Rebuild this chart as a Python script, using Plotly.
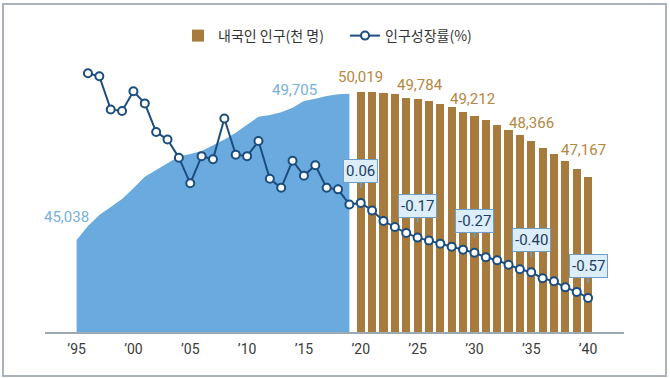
import plotly.graph_objects as go

# ---------------- data ----------------
hist_years = list(range(1995, 2020))
hist_pop = [45038, 45508, 45884, 46150, 46415, 46780, 47163, 47388, 47613, 47841,
            47925, 48032, 48224, 48415, 48643, 48901, 49180, 49237, 49331, 49479,
            49705, 49787, 49875, 49932, 49950]

proj_years = list(range(2020, 2041))
proj_pop = [50019, 50010, 49965, 49932, 49818, 49784, 49717, 49596, 49495, 49348,
            49212, 49069, 48891, 48734, 48556, 48366, 48130, 47928, 47693, 47415,
            47167]

growth_years = list(range(1996, 2041))
growth = [0.92, 0.90, 0.68, 0.67, 0.80, 0.72, 0.53, 0.48, 0.36, 0.19,
          0.37, 0.35, 0.62, 0.38, 0.37, 0.47, 0.22, 0.16, 0.34, 0.24,
          0.31, 0.16, 0.15, 0.05, 0.06, 0.01, -0.06, -0.10, -0.14, -0.17,
          -0.19, -0.21, -0.23, -0.25, -0.27, -0.30, -0.32, -0.35, -0.38, -0.40,
          -0.44, -0.46, -0.50, -0.53, -0.57]

tick_years = [1995, 2000, 2005, 2010, 2015, 2020, 2025, 2030, 2035, 2040]
tick_text = ["’95", "’00", "’05", "’10", "’15", "’20", "’25", "’30", "’35", "’40"]

hist_label_years = [1995, 2015]
proj_label_years = [2020, 2025, 2030, 2035, 2040]
callout_years = [2020, 2025, 2030, 2035, 2040]

# ---------------- style ----------------
NARROW = "Roboto, sans-serif"
KR = "Noto Sans CJK KR, sans-serif"
AREA_C = "#6aaadf"
BAR_C = "#a67b3d"
LINE_C = "#1b4d7e"
HIST_LBL_C = "#74b1e3"
PROJ_LBL_C = "#b5873f"

fig = go.Figure()

fig.add_trace(go.Scatter(
    x=hist_years, y=hist_pop, mode="lines", fill="tozeroy",
    line=dict(width=0, color=AREA_C), fillcolor=AREA_C,
    showlegend=False, hoverinfo="skip"))

fig.add_trace(go.Bar(
    x=proj_years, y=proj_pop, name="내국인 인구(천 명)",
    marker=dict(color=BAR_C, line=dict(width=0)), width=0.72))

fig.add_trace(go.Scatter(
    x=growth_years, y=growth, name="인구성장률(%)", yaxis="y2",
    mode="lines+markers",
    line=dict(color=LINE_C, width=2),
    marker=dict(symbol="circle", size=8, color="white",
                line=dict(color=LINE_C, width=2))))

annotations = []
hist_shift = {1995: (-10, 23), 2015: (-9, 11)}
for yr in hist_label_years:
    v = hist_pop[hist_years.index(yr)]
    xs, ys = hist_shift[yr]
    annotations.append(dict(x=yr, y=v, xref="x", yref="y", text=f"{v:,}",
                            showarrow=False, xshift=xs, yshift=ys,
                            font=dict(family=NARROW, size=15, color=HIST_LBL_C)))
proj_shift = {2020: (0, 15), 2025: (2, 14), 2030: (-2, 17), 2035: (0, 18), 2040: (-5, 27)}
for yr in proj_label_years:
    v = proj_pop[proj_years.index(yr)]
    xs, ys = proj_shift[yr]
    annotations.append(dict(x=yr, y=v, xref="x", yref="y", text=f"{v:,}",
                            showarrow=False, xshift=xs, yshift=ys,
                            font=dict(family=NARROW, size=15, color=PROJ_LBL_C)))
for yr in callout_years:
    v = growth[growth_years.index(yr)]
    annotations.append(dict(x=yr, y=v, xref="x", yref="y2", text=f"{v:.2f}",
                            showarrow=True, ax=0, ay=-32, arrowhead=0,
                            arrowwidth=1.5, arrowcolor="#6f9fc8", standoff=15,
                            bgcolor="#dceef9", bordercolor="#6f9fc8",
                            borderwidth=1, borderpad=2,
                            font=dict(family=NARROW, size=15, color="#1d3d62")))

# frame around the whole chart (paper coords computed from the plot area)
L, R, T, B = 45, 46, 50, 46
PW, PH = 670 - L - R, 378 - T - B
def px_x(p):
    return (p - L) / PW
def px_y(p):
    return (378 - B - p) / PH

fig.add_shape(type="rect", xref="paper", yref="paper",
              x0=px_x(3), x1=px_x(666), y0=px_y(376), y1=px_y(4),
              line=dict(color="#aab2bb", width=2), fillcolor="rgba(0,0,0,0)",
              layer="below")

fig.update_layout(
    width=670, height=378,
    margin=dict(l=L, r=R, t=T, b=B),
    paper_bgcolor="white", plot_bgcolor="white",
    bargap=0,
    showlegend=True,
    legend=dict(orientation="h", x=px_x(178), xanchor="left", y=px_y(36), yanchor="middle",
                font=dict(family=KR, size=14, color="#333333"),
                bgcolor="rgba(0,0,0,0)", itemwidth=30, tracegroupgap=0,
                entrywidth=122),
    xaxis=dict(range=[1992.22, 2043.16], showgrid=False, zeroline=False,
               showline=True, linecolor="#9ea8b3", linewidth=2,
               tickvals=tick_years, ticktext=tick_text, ticks="",
               ticklabelstandoff=3,
               tickfont=dict(family=NARROW, size=14, color="#3a3a3a")),
    yaxis=dict(range=[41950, 51422], visible=False, showgrid=False),
    yaxis2=dict(range=[-0.796, 1.074], overlaying="y", visible=False, showgrid=False),
    annotations=annotations,
    hovermode=False,
)

fig.write_html("out.html")
